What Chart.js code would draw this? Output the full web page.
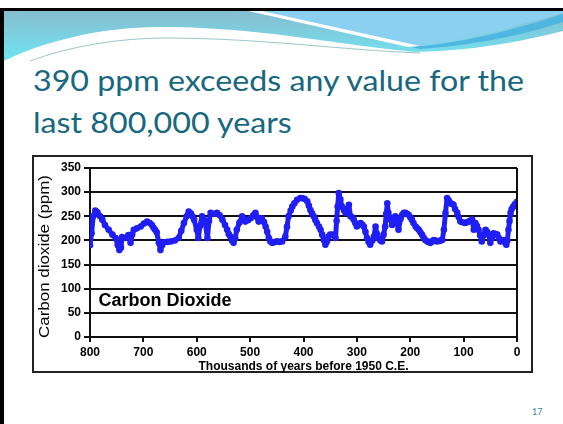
<!DOCTYPE html>
<html>
<head>
<meta charset="utf-8">
<script src="https://cdn.jsdelivr.net/npm/chart.js@4"></script>
<style>
  html, body { margin: 0; padding: 0; background: #fff; }
  body { width: 563px; height: 424px; position: relative; overflow: hidden; }
  #band { position: absolute; left: 0; top: 0; }
  .title { position: absolute; left: 33px; color: #17687f; font-family: Lato, "Open Sans", sans-serif;
           font-size: 28px; white-space: nowrap; transform-origin: 0 0; line-height: 1; }
  #box { position: absolute; left: 32px; top: 155px; width: 497px; height: 214px; border: 2px solid #222; }
  #wrap { position: absolute; left: 33px; top: 155px; width: 500px; height: 219px; }
  #pageNum { position: absolute; left: 532px; top: 406px; font-family: Lato, sans-serif; font-size: 9px; color: #3a8aa0; }
</style>
</head>
<body>
<svg id="band" width="563" height="424">
  <defs>
    <linearGradient id="tealGrad" x1="0" y1="0" x2="0" y2="1">
      <stop offset="0" stop-color="#86bdcf"/>
      <stop offset="1" stop-color="#6ee9f5"/>
    </linearGradient>
  </defs>
  <rect x="0" y="11" width="563" height="55" fill="url(#tealGrad)"/>
  <path d="M258 11 L563 11 L563 13 C520 25 470 40 415 47 Z" fill="#8bd0f0"/>
  <path d="M248 11 L262 11 L420 46 L408 47 Z" fill="#fff"/>
  <path d="M412 47 C470 42 520 28 563 14 L563 22 C520 36 470 46 420 49 Z" fill="#4fb6e2"/>
  <path d="M0 70 L0 63 C40 42 100 27 160 27 C260 27 340 45 415 52 C470 51 520 42 563 31 L563 70 Z" fill="#fff"/>
  <path d="M30 61 C70 46 120 38 165 38 C260 38 340 50 420 53" stroke="#9cc6c6" stroke-width="1" fill="none"/>
  <rect x="0" y="8" width="563" height="3" fill="#000"/>
  <rect x="0" y="8" width="4" height="416" fill="#000"/>
</svg>

<div class="title" id="line1" style="top:66px">390 ppm exceeds any value for the</div>
<div class="title" id="line2" style="top:108px">last 800,000 years</div>

<div id="box"></div>
<div id="wrap"><canvas id="co2Chart" width="500" height="219"></canvas></div>
<div id="pageNum">17</div>

<script>
// Thousands of years before 1950 C.E.
const ages = [
  800, 797, 794, 790, 786, 781, 777, 772, 765, 758, 752, 748, 745, 742, 740, 734, 728, 724, 721, 718,
  712, 705, 699, 693, 688, 684, 681, 678, 675, 671, 668, 665, 661, 655, 648, 641, 634, 629, 624, 619,
  615, 611, 608, 605, 600, 597, 594, 590, 587, 584, 580, 577, 574, 568, 562, 557, 552, 547, 543, 540,
  537, 534, 531, 528, 525, 520, 515, 512, 509, 504, 499, 494, 490, 487, 484, 481, 478, 474, 471, 468,
  465, 462, 459, 455, 450, 445, 440, 434, 431, 428, 424, 421, 417, 412, 406, 403, 398, 393, 390, 387,
  384, 381, 378, 375, 371, 368, 365, 362, 359, 356, 353, 350, 346, 343, 340, 338, 336, 334, 331, 328,
  324, 321, 318, 315, 312, 309, 306, 303, 300, 296, 293, 290, 287, 284, 281, 278, 275, 271, 268, 265,
  263, 260, 256, 253, 250, 247, 245, 243, 241, 238, 234, 231, 228, 225, 222, 218, 215, 212, 209, 206,
  203, 200, 197, 194, 190, 187, 184, 181, 178, 175, 172, 168, 165, 162, 159, 156, 153, 150, 146, 143,
  140, 137, 134, 131, 128, 125, 122, 119, 116, 112, 109, 106, 101, 97, 93, 90, 87, 84, 81, 78,
  75, 72, 69, 66, 63, 59, 56, 53, 50, 47, 44, 40, 37, 34, 31, 28, 25, 22, 20, 18,
  16, 14, 12, 10, 7, 4, 0
];

// Carbon dioxide (ppm)
const co2 = [
  190, 215, 250, 262, 258, 250, 243, 232, 222, 212, 205, 190, 180, 185, 207, 205, 211, 195, 212, 222,
  225, 229, 235, 239, 236, 232, 226, 222, 217, 195, 180, 190, 196, 197, 198, 200, 205, 220, 236, 250,
  260, 256, 250, 243, 222, 205, 230, 250, 244, 236, 205, 240, 257, 255, 257, 252, 243, 232, 222, 213,
  208, 200, 195, 205, 222, 237, 250, 245, 239, 242, 246, 252, 257, 248, 239, 243, 246, 238, 229, 218,
  205, 198, 195, 196, 198, 197, 198, 208, 228, 250, 262, 270, 277, 284, 288, 288, 286, 281, 272, 263,
  256, 250, 243, 236, 229, 222, 212, 201, 191, 198, 208, 212, 212, 210, 205, 240, 270, 298, 285, 270,
  262, 257, 265, 274, 250, 248, 243, 236, 229, 233, 236, 233, 229, 218, 205, 197, 191, 200, 208, 229,
  215, 205, 200, 198, 212, 229, 255, 277, 257, 245, 232, 240, 250, 236, 222, 245, 253, 257, 257, 255,
  253, 248, 243, 236, 229, 225, 222, 217, 212, 206, 201, 198, 196, 195, 198, 201, 200, 198, 199, 200,
  201, 222, 257, 288, 283, 277, 276, 274, 265, 257, 248, 239, 237, 236, 238, 239, 241, 243, 222, 236,
  230, 222, 210, 198, 210, 222, 218, 212, 195, 205, 215, 213, 212, 205, 198, 200, 201, 195, 191, 200,
  222, 240, 257, 265, 270, 275, 280
];

const yTicks = [0, 50, 100, 150, 200, 250, 300, 350];
const xTicks = [800, 700, 600, 500, 400, 300, 200, 100, 0];

const axisFont = 'Arial, "Liberation Sans", sans-serif';

// Fit the title lines to the widths seen on the slide
function fitTitle() {
  const l1 = document.getElementById('line1');
  const l2 = document.getElementById('line2');
  const s = 491 / l1.getBoundingClientRect().width;
  l1.style.transform = 'scaleX(' + s + ')';
  l2.style.transform = 'scaleX(' + s + ')';
}

// Right frame of the plot, y title (stretched like the slide) and the "Carbon Dioxide" label
const framePlugin = {
  id: 'frame',
  afterDraw(chart) {
    const ctx = chart.ctx;
    const area = chart.chartArea;
    ctx.save();
    ctx.strokeStyle = '#111';
    ctx.lineWidth = 2;
    ctx.beginPath();
    ctx.moveTo(area.right, area.top);
    ctx.lineTo(area.right, area.bottom);
    ctx.stroke();

    ctx.fillStyle = '#000';
    ctx.font = 'bold 18px ' + axisFont;
    ctx.textBaseline = 'middle';
    ctx.textAlign = 'left';
    ctx.fillText('Carbon Dioxide', chart.scales.x.getPixelForValue(784), chart.scales.y.getPixelForValue(75));

    const yTitle = 'Carbon dioxide (ppm)';
    ctx.font = '14px ' + axisFont;
    const w = ctx.measureText(yTitle).width;
    ctx.translate(12, (area.top + area.bottom) / 2 + 4);
    ctx.rotate(-Math.PI / 2);
    ctx.scale(163 / w, 1);
    ctx.textAlign = 'center';
    ctx.fillText(yTitle, 0, 0);
    ctx.restore();
  }
};

function initChart() {
  const points = ages.map((a, i) => ({ x: a, y: co2[i] }));
  const ctx = document.getElementById('co2Chart').getContext('2d');
  new Chart(ctx, {
    type: 'scatter',
    data: {
      datasets: [{
        data: points,
        showLine: true,
        borderColor: '#1f1ff5',
        backgroundColor: '#1f1ff5',
        borderWidth: 5,
        borderJoinStyle: 'round',
        borderCapStyle: 'round',
        pointRadius: 3.3,
        pointBorderWidth: 0,
        tension: 0
      }]
    },
    options: {
      responsive: false,
      animation: false,
      layout: { padding: { left: 0, right: 16, top: 13, bottom: 0 } },
      plugins: {
        legend: { display: false },
        tooltip: { enabled: false }
      },
      scales: {
        x: {
          type: 'linear',
          reverse: true,
          min: 0,
          max: 800,
          afterBuildTicks: scale => { scale.ticks = xTicks.map(v => ({ value: v })); },
          afterFit: scale => { scale.height = 37; },
          grid: { drawOnChartArea: false, drawTicks: true, tickLength: 5, color: '#111', lineWidth: 2 },
          border: { color: '#111', width: 2 },
          ticks: {
            color: '#000',
            padding: 3,
            maxRotation: 0,
            font: { family: axisFont, size: 12, weight: 'bold' }
          },
          title: {
            display: true,
            text: 'Thousands of years before 1950 C.E.',
            color: '#000',
            padding: { top: 0, bottom: 0 },
            font: { family: axisFont, size: 12, weight: 'bold' }
          }
        },
        y: {
          min: 0,
          max: 350,
          afterBuildTicks: scale => { scale.ticks = yTicks.map(v => ({ value: v })); },
          afterFit: scale => { scale.width = 57; },
          grid: { color: '#111', lineWidth: 2, drawTicks: true, tickLength: 6 },
          border: { color: '#111', width: 2 },
          ticks: {
            color: '#000',
            padding: 3,
            font: { family: axisFont, size: 12, weight: 'bold' }
          },
          title: { display: false }
        }
      }
    },
    plugins: [framePlugin]
  });
}

document.addEventListener('DOMContentLoaded', function() {
  fitTitle();
  initChart();
});
</script>
</body>
</html>
